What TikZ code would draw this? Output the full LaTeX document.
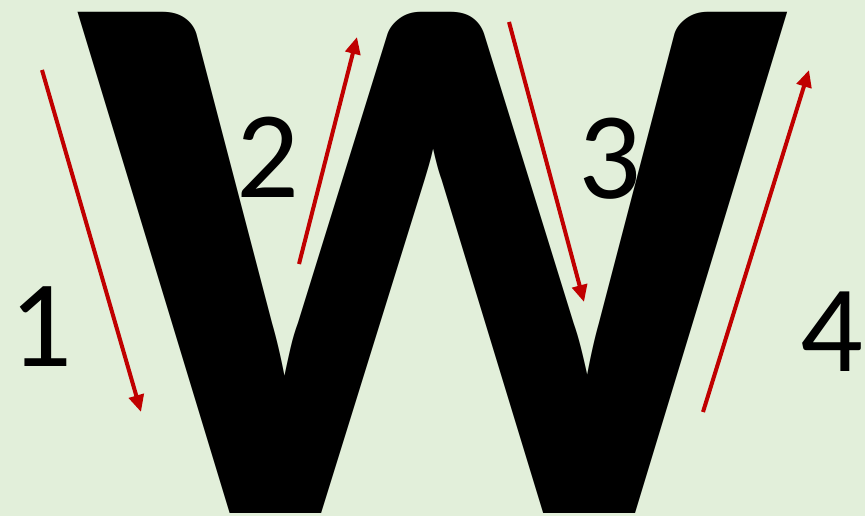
\documentclass[tikz,border=0pt]{standalone}
\usepackage{fontspec}
\setmainfont{Carlito}
\usetikzlibrary{arrows.meta}
\definecolor{bg}{HTML}{E2EFDA}
\definecolor{arr}{HTML}{C00000}
\tikzset{
  bigletter/.style={inner sep=0pt, anchor=base west, font=\fontsize{773}{773}\selectfont\bfseries},
  digit/.style={inner sep=0pt, font=\fontsize{124}{124}\selectfont},
  flow/.style={draw=arr, line width=4pt, -{Triangle[length=17pt,width=15pt]}},
}
\begin{document}
\begin{tikzpicture}[x=1pt,y=-1pt]
\fill[bg] (0,0) rectangle (865,516);
\useasboundingbox (0,0) rectangle (865,516);
\node[bigletter] (W) at (74,513) {\scalebox{1.023}[1]{W}};
\node[digit] (n1) at (41,327) {1};
\node[digit] (n2) at (268,157) {2};
\node[digit] (n3) at (610,159) {3};
\node[digit] (n4) at (832,332) {4};
\coordinate (a1s) at (42,70);  \coordinate (a1e) at (141,412);
\coordinate (a2s) at (299,264); \coordinate (a2e) at (357,37);
\coordinate (a3s) at (509,22);  \coordinate (a3e) at (584,302);
\coordinate (a4s) at (703,412); \coordinate (a4e) at (809,70);
\draw[flow] (a1s) -- (a1e);
\draw[flow] (a2s) -- (a2e);
\draw[flow] (a3s) -- (a3e);
\draw[flow] (a4s) -- (a4e);
\end{tikzpicture}
\end{document}
